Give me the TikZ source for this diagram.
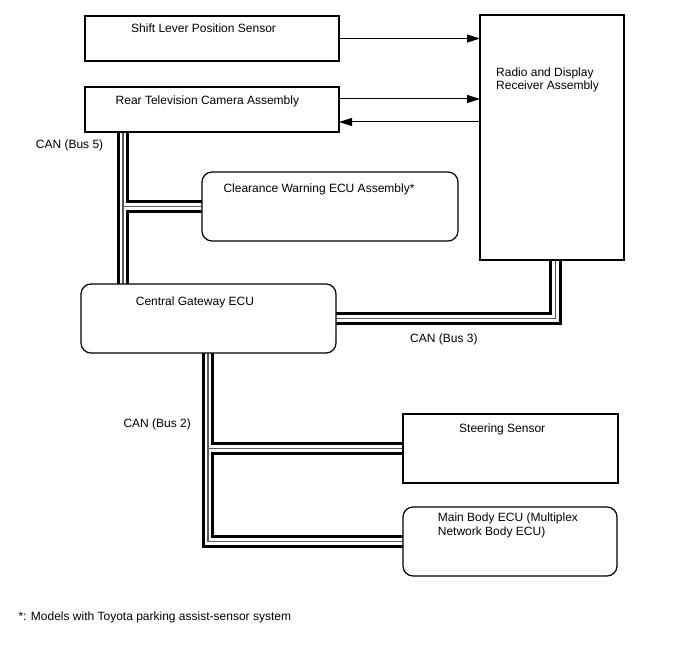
\documentclass[tikz,border=0pt]{standalone}
\usepackage{fontspec}
\setmainfont{Liberation Sans}
\usetikzlibrary{arrows.meta,calc}
\pgfdeclarelayer{background}
\pgfsetlayers{background,main}
\begin{document}
\begin{tikzpicture}[x=1pt,y=-1pt,
  box/.style={draw=black,line width=1.2pt,fill=white,inner sep=0pt,outer sep=0pt},
  rbox/.style={box,rounded corners=10pt},
  txt/.style={anchor=base west,inner sep=0pt,font=\fontsize{12}{13.5}\selectfont},
  sig/.style={line width=1pt,-{Triangle[length=13pt,width=8pt]}},
  busouter/.style={line width=12.5pt,black},
  businner/.style={line width=6.5pt,white},
  busmid/.style={line width=1.3pt,black!65}]
\useasboundingbox (0,0) rectangle (688,658);

% boxes
\node[box,minimum width=254pt,minimum height=45pt] (slps) at (212,38.5) {};
\node[box,minimum width=254pt,minimum height=45pt] (rtv) at (212,109.5) {};
\node[box,minimum width=144pt,minimum height=245pt] (radio) at (552,137.5) {};
\node[rbox,minimum width=256pt,minimum height=69pt] (cw) at (330,206.5) {};
\node[rbox,minimum width=255pt,minimum height=69pt] (gw) at (208.5,318.5) {};
\node[box,minimum width=215pt,minimum height=69pt] (ss) at (510.5,448.5) {};
\node[rbox,minimum width=214pt,minimum height=69pt] (mb) at (510,541.5) {};

% texts
\node[txt] (tslps) at (131,32.5) {Shift Lever Position Sensor};
\node[txt] (trtv) at (115.5,104.5) {Rear Television Camera Assembly};
\node[txt,align=left,anchor=north west] (tradio) at (496,67.3) {Radio and Display\\Receiver Assembly};
\node[txt] (tcw) at (223.3,192.6) {Clearance Warning ECU Assembly*};
\node[txt] (tgw) at (135.7,305.3) {Central Gateway ECU};
\node[txt] (tss) at (459,432.6) {Steering Sensor};
\node[txt,align=left,anchor=north west] (tmb) at (437.7,513) {Main Body ECU (Multiplex\\Network Body ECU)};
\node[txt] (lb5) at (35.7,148.6) {CAN (Bus 5)};
\node[txt] (lb3) at (410,342) {CAN (Bus 3)};
\node[txt] (lb2) at (123.3,427) {CAN (Bus 2)};
\node[txt] (fn) at (18.3,620.3) {*: Models with Toyota parking assist-sensor system};

% reference coordinates
\coordinate (b5x) at (123,0);
\coordinate (b3x) at (555.7,0);
\coordinate (b2x) at (208,0);
\coordinate (rtvout) at ([yshift=10.5pt]rtv.east);
\coordinate (rtvin) at ([yshift=-12.5pt]rtv.east);

% signal arrows
\draw[sig] (slps.east) -- (radio.west |- slps.east);
\draw[sig] (rtvout) -- (radio.west |- rtvout);
\draw[sig] (radio.west |- rtvin) -- (rtvin);

% CAN buses
\begin{pgfonlayer}{background}
\fill[white] (0,0) rectangle (688,658);
\foreach \st in {busouter,businner,busmid}{
  \draw[\st] (rtv.south -| b5x) -- (gw.north -| b5x);
  \draw[\st] (b5x |- cw.west) -- (cw.west);
  \draw[\st] (gw.east) -- (b3x |- gw.east) -- (radio.south -| b3x);
  \draw[\st] (gw.south -| b2x) -- (b2x |- mb.west) -- (mb.west);
  \draw[\st] (b2x |- ss.west) -- (ss.west);
}
\end{pgfonlayer}
\end{tikzpicture}
\end{document}
